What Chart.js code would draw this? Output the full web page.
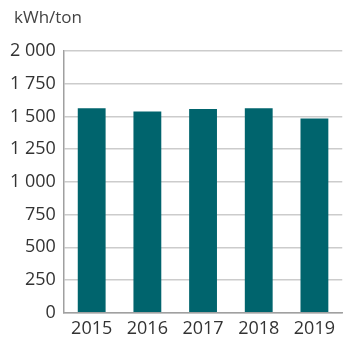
<!DOCTYPE html>
<html lang="en">
<head>
  <meta charset="UTF-8" />
  <title>kWh/ton</title>
  <style>
    body {
      margin: 0;
      background: #fff;
    }
    .wrap {
      position: relative;
      width: 343px;
      height: 337px;
    }
  </style>
</head>
<body>
  <div class="wrap">
    <canvas id="energyChart"></canvas>
  </div>

  <script src="https://cdn.jsdelivr.net/npm/chart.js"></script>
  <script>
    const years = ['2015', '2016', '2017', '2018', '2019'];
    const kwhPerTon = [1563, 1538, 1556, 1563, 1485];
    const yTicks = [0, 250, 500, 750, 1000, 1250, 1500, 1750, 2000];
    const unitLabel = 'kWh/ton';

    // "2 000" style thousands separator
    function spaced(v) {
      return String(v).replace(/\B(?=(\d{3})+(?!\d))/g, ' ');
    }

    // unit caption in the top left corner
    const unitCaption = {
      id: 'unitCaption',
      afterDraw(chart) {
        const c = chart.ctx;
        c.save();
        c.fillStyle = '#444';
        c.font = '17px "Open Sans"';
        c.textBaseline = 'middle';
        c.textAlign = 'left';
        c.fillText(unitLabel, 14, 18);
        c.restore();
      }
    };

    const ctx = document.getElementById('energyChart');
    new Chart(ctx, {
      type: 'bar',
      data: {
        labels: years,
        datasets: [{
          data: kwhPerTon,
          backgroundColor: '#00646d',
          barPercentage: 0.5,
          categoryPercentage: 1
        }]
      },
      options: {
        responsive: true,
        maintainAspectRatio: false,
        animation: false,
        layout: { padding: { left: 2, right: 0, top: 51, bottom: -8 } },
        plugins: {
          legend: { display: false },
          tooltip: { enabled: false }
        },
        scales: {
          x: {
            grid: { display: false, drawTicks: false },
            border: { color: '#a0a0a0', width: 1.5 },
            ticks: {
              color: '#333',
              padding: 8,
              font: { family: 'Open Sans', size: 18, lineHeight: 0.9 }
            }
          },
          y: {
            min: 0,
            max: 2000,
            afterBuildTicks: axis => {
              axis.ticks = yTicks.map(v => ({ value: v }));
            },
            grid: { color: '#cccccc', lineWidth: 1.5, drawTicks: false },
            border: { color: '#a0a0a0', width: 1.5 },
            ticks: {
              color: '#333',
              padding: 8,
              font: { family: 'Open Sans', size: 18 },
              callback: v => spaced(v)
            }
          }
        }
      },
      plugins: [unitCaption]
    });
  </script>
</body>
</html>
